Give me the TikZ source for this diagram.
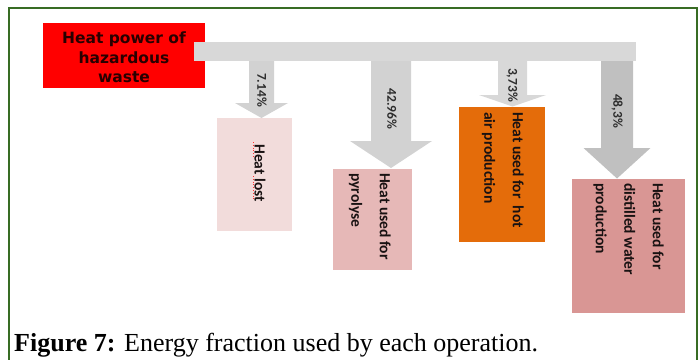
\documentclass[tikz,border=0pt]{standalone}
\usepackage{fontspec}
\setmainfont{Liberation Serif}
\newfontfamily\calib{Carlito}
\newfontfamily\heavy{DejaVu Sans}

\definecolor{framegreen}{RGB}{56,108,36}
\definecolor{bargray}{RGB}{216,216,216}
\definecolor{arrowgray}{RGB}{210,210,210}
\definecolor{arrowdark}{RGB}{192,192,192}
\definecolor{sourcered}{RGB}{255,0,0}
\definecolor{sourcetext}{RGB}{40,0,0}
\definecolor{lostpink}{RGB}{242,220,219}
\definecolor{pyropink}{RGB}{230,184,183}
\definecolor{hotorange}{RGB}{228,108,10}
\definecolor{waterpink}{RGB}{217,150,148}
\definecolor{boxtext}{RGB}{25,18,18}
\definecolor{pcttext}{RGB}{45,45,45}

% block arrow: colour, centre x, shaft width, head width, top y, head start y, tip y
\newcommand\blockarrow[7]{%
  \fill[#1] (#2-#3/2,#5) -- (#2+#3/2,#5) -- (#2+#3/2,#6) -- (#2+#4/2,#6)
    -- (#2,#7) -- (#2-#4/2,#6) -- (#2-#3/2,#6) -- cycle;}

\begin{document}
\begin{tikzpicture}[x=1pt,y=-1pt,
  blockbox/.style={draw=none, inner sep=0, anchor=north west},
  vlabel/.style={rotate=-90, inner sep=0, align=left, text=boxtext,
    font=\calib\bfseries\fontsize{15.5}{28.5}\selectfont},
  pct/.style={rotate=-90, inner sep=0, text=pcttext,
    font=\calib\bfseries\fontsize{13.5}{16}\selectfont}]

\fill[white] (0,0) rectangle (700,359);
\useasboundingbox (0,0) rectangle (700,359);

% outer frame (open at the bottom)
\draw[framegreen, line width=2] (9,362) -- (9,8) -- (696.5,8) -- (696.5,362);

% source box
\node[blockbox, fill=sourcered, minimum width=162, minimum height=65] (src) at (43,23) {};
\node[align=center, inner sep=0, text=sourcetext,
  font=\heavy\bfseries\fontsize{15.5}{19.5}\selectfont] (srcT) at (124,57.5)
  {Heat power of\\hazardous\\waste};

% distribution bar
\node[blockbox, fill=bargray, minimum width=442, minimum height=19] (bar) at (194,42) {};

% target boxes
\node[blockbox, fill=lostpink,  minimum width=75,  minimum height=113] (lost)  at (217,118) {};
\node[blockbox, fill=pyropink,  minimum width=79,  minimum height=101] (pyro)  at (333,169) {};
\node[blockbox, fill=hotorange, minimum width=86,  minimum height=135] (hot)   at (459,107) {};
\node[blockbox, fill=waterpink, minimum width=113, minimum height=134] (water) at (572,179) {};

% block arrows from the bar to each box
\blockarrow{arrowgray}{261.5}{25}{53}{61}{103}{118}
\blockarrow{arrowgray}{391}{40}{82}{61}{141}{168}
\blockarrow{bargray}{512.5}{29}{67}{61}{95}{106.5}
\blockarrow{arrowdark}{617}{32}{67}{61}{148}{178.5}

% percentages on the arrow shafts
\node[pct] (p1) at (262,90)  {7.14\%};
\node[pct] (p2) at (392,109) {42.96\%};
\node[pct] (p3) at (512,85)  {3,73\%};
\node[pct] (p4) at (617,111) {48,3\%};

% box labels
\node[vlabel, anchor=center] (lostT) at (260,173) {Heat lost};
\node[vlabel, anchor=north west] (pyroT) at (391,173) {Heat used for\\pyrolyse};
\node[vlabel, anchor=north west] (hotT) at (524,112) {Heat used for\ \ hot\\air production};
\node[vlabel, anchor=north west] (waterT) at (664,183) {Heat used for\\distilled water\\production};

% spelling marks under the label
\draw[red!80, line width=0.8, dotted] (253,142) -- (253,158);
\draw[red!80, line width=0.8, dotted] (253,176) -- (253,201);

% caption
\node[anchor=base west, inner sep=0, font=\fontsize{26}{30}\selectfont] (cap) at (14,351)
  {\textbf{Figure 7:} Energy fraction used by each operation.};
\end{tikzpicture}
\end{document}
